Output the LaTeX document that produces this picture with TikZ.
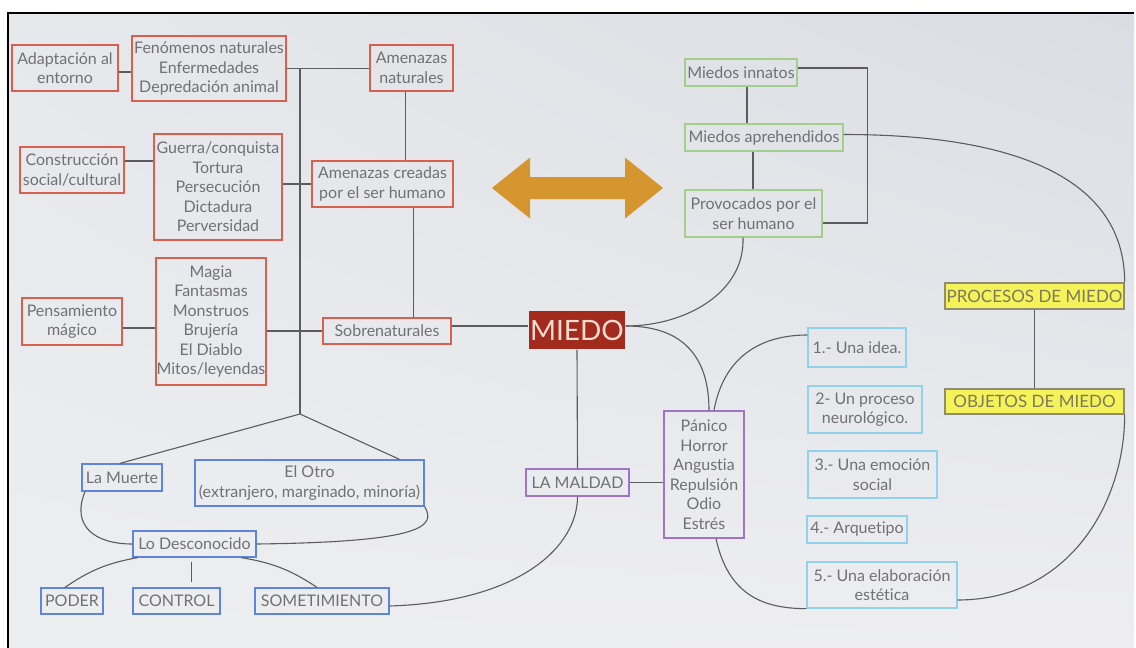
\documentclass[tikz,border=0pt]{standalone}
\usepackage{fontspec}
\usetikzlibrary{shadings}
\setmainfont{Lato}[Ligatures=NoCommon]
\definecolor{txtgray}{HTML}{717175}
\definecolor{linegray}{HTML}{5C5C60}
\definecolor{redline}{HTML}{D9604E}
\definecolor{blueline}{HTML}{5C84E0}
\definecolor{purpleline}{HTML}{A274C8}
\definecolor{greenline}{HTML}{A2D08C}
\definecolor{cyanline}{HTML}{90D2EC}
\definecolor{yellowfill}{HTML}{F6F25A}
\definecolor{yellowline}{HTML}{8E8E72}
\definecolor{yellowtxt}{HTML}{7C7A5E}
\definecolor{miedofill}{HTML}{A22B1D}
\definecolor{miedotxt}{HTML}{F4DCD2}
\definecolor{gold}{HTML}{D5962F}
\definecolor{bgul}{HTML}{E7E8EB}
\definecolor{bgur}{HTML}{DADDE3}
\definecolor{bgll}{HTML}{EDEEF0}
\definecolor{bglr}{HTML}{EEEEF1}
\tikzset{
  box/.style={draw, line width=1.3pt, text=txtgray, inner sep=0pt, align=center,
    font=\fontsize{16}{19.5}\selectfont},
  redbox/.style={box, draw=redline},
  bluebox/.style={box, draw=blueline},
  purplebox/.style={box, draw=purpleline},
  greenbox/.style={box, draw=greenline},
  cyanbox/.style={box, draw=cyanline},
  yellowbox/.style={box, draw=yellowline, fill=yellowfill, text=yellowtxt,
    font=\fontsize{17}{19.5}\selectfont},
  link/.style={draw=linegray, line width=1.1pt},
  sz/.style n args={2}{minimum width=#1, minimum height=#2}
}
\begin{document}
\begin{tikzpicture}[x=1pt, y=-1pt]
\useasboundingbox (0,0) rectangle (1136,648);
% page and slide background
\fill[white] (0,0) rectangle (1136,648);
\shade[upper left=bgul, upper right=bgur, lower left=bgll, lower right=bglr]
  (9,14) rectangle (1134,648);
\draw[line width=2.5pt, black] (8,648) -- (8,13) -- (1134,13);

% threats (red)
\node[redbox, sz={106pt}{46pt}] (ada) at (65,68) {Adaptación al\\entorno};
\node[redbox, sz={154pt}{65pt}] (fen) at (209,68.5) {Fenómenos naturales\\Enfermedades\\Depredación animal};
\node[redbox, sz={83pt}{46pt}] (amn) at (411.5,68) {Amenazas\\naturales};
\node[redbox, sz={104pt}{46pt}] (con) at (72,170) {Construcción\\social/cultural};
\node[redbox, sz={128pt}{106pt}] (gue) at (218,187) {Guerra/conquista\\Tortura\\Persecución\\Dictadura\\Perversidad};
\node[redbox, sz={141pt}{46pt}] (amc) at (382.5,184) {Amenazas creadas\\por el ser humano};
\node[redbox, sz={100pt}{47pt}] (pen) at (72,321.5) {Pensamiento\\mágico};
\node[redbox, sz={110pt}{127pt}] (mag) at (211,321.5) {Magia\\Fantasmas\\Monstruos\\Brujería\\El Diablo\\Mitos/leyendas};
\node[redbox, sz={128pt}{26pt}] (sob) at (387,331) {Sobrenaturales};

% objects (blue)
\node[bluebox, sz={80pt}{27pt}] (muerte) at (122,477.5) {La Muerte};
\node[bluebox, sz={229pt}{46pt}] (otro) at (309.5,483) {El Otro\\(extranjero, marginado, minoría)};
\node[bluebox, sz={123pt}{26pt}] (des) at (194.5,544) {Lo Desconocido};
\node[bluebox, sz={62pt}{26pt}] (poder) at (72,601) {PODER};
\node[bluebox, sz={87pt}{26pt}] (control) at (176.5,601) {CONTROL};
\node[bluebox, sz={134pt}{26pt}] (somet) at (322,601) {SOMETIMIENTO};

% centre
\node[box, draw=none, fill=miedofill, text=miedotxt, sz={96pt}{38pt},
      font=\fontsize{28}{30}\selectfont] (miedo) at (577,330) {MIEDO};
\node[purplebox, sz={103pt}{27pt}] (maldad) at (577.5,482.5) {LA MALDAD};
\node[purplebox, sz={80pt}{127pt}] (panico) at (704,474.5) {Pánico\\Horror\\Angustia\\Repulsión\\Odio\\Estrés};

% kinds of fear (green)
\node[greenbox, sz={112pt}{27pt}] (innatos) at (741,72.5) {Miedos innatos};
\node[greenbox, sz={158pt}{27pt}] (apre) at (764,137.5) {Miedos aprehendidos};
\node[greenbox, sz={137pt}{47pt}] (prov) at (753.5,213.5) {Provocados por el\\ser humano};

% fear as ... (cyan)
\node[cyanbox, sz={98pt}{39pt}] (b1) at (857,347.5) {1.- Una idea.};
\node[cyanbox, sz={114pt}{47pt}] (b2) at (865,409.5) {2- Un proceso\\neurológico.};
\node[cyanbox, sz={129pt}{47pt}] (b3) at (872.5,474.5) {3.- Una emoción\\social};
\node[cyanbox, sz={100pt}{27pt}] (b4) at (857,529.5) {4.- Arquetipo};
\node[cyanbox, sz={150pt}{46pt}] (b5) at (882,585) {5.- Una elaboración\\estética};

% processes / objects (yellow)
\node[yellowbox, sz={179pt}{26pt}] (proc) at (1034.5,296) {PROCESOS DE MIEDO};
\node[yellowbox, sz={179pt}{25pt}] (obj) at (1034.5,401.5) {OBJETOS DE MIEDO};

% two-way arrow
\fill[gold] (492,188) -- (530,157.5) -- (530,177) -- (625,177) -- (625,157.5)
  -- (663,188) -- (625,218.5) -- (625,199) -- (530,199) -- (530,218.5) -- cycle;

% left tree
\coordinate (trunktop) at (300,68.5);
\coordinate (fork) at (300,414);
\draw[link] ([yshift=-4pt]ada.east) -- ([yshift=-4pt]ada.east -| fen.west);
\draw[link] (fen.east) -- (fen.east -| amn.west);
\draw[link] (trunktop) -- (fork);
\draw[link] ([xshift=-6pt]amn.south) -- ([xshift=-6pt]amn.south |- amc.north);
\draw[link] ([yshift=9pt]con.east) -- ([yshift=9pt]con.east -| gue.west);
\draw[link] (amc.west -| gue.east) -- (amc.west);
\draw[link] ([xshift=31pt]amc.south) -- ([xshift=31pt]amc.south |- sob.north);
\draw[link] ([yshift=-6.5pt]pen.east) -- ([yshift=-6.5pt]pen.east -| mag.west);
\draw[link] (sob.west -| mag.east) -- (sob.west);
\draw[link] ([yshift=4pt]miedo.west -| sob.east) -- ([yshift=4pt]miedo.west);
\draw[link] (fork) -- ([xshift=-2pt]muerte.north);
\draw[link] (fork) -- ([xshift=90pt]otro.north);
\draw[link] ([xshift=-37pt]muerte.south) .. controls +(-14,34) and +(-38,0) .. (des.west);
\draw[link] (des.east) .. controls +(165,-2) and +(12,20) .. (otro.south east);
\draw[link] ([xshift=-57pt]des.south) to[bend right=12] ([xshift=-7pt]poder.north);
\draw[link, shorten <=4pt, shorten >=5pt] ([xshift=-3pt]des.south) -- ([xshift=-3pt]des.south |- control.north);
\draw[link] ([xshift=47pt]des.south) to[bend left=12] ([xshift=-5pt]somet.north);
\draw[link] ([yshift=-5pt]somet.east) .. controls +(130,-4) and +(0,50) .. (maldad.south);

% centre links
\draw[link] (miedo.south) -- (maldad.north);
\draw[link] (maldad.east) -- (maldad.east -| panico.west);
\draw[link] ([yshift=4pt]miedo.east) .. controls +(65,0) and +(0,-45) .. ([xshift=5pt]panico.north);
\draw[link] ([yshift=4pt]miedo.east) .. controls +(60,0) and +(2,55) .. ([xshift=-10.5pt]prov.south);
\draw[link] ([xshift=10pt]panico.north) .. controls +(10,-55) and +(-45,0) .. ([yshift=12.5pt]b1.west);
\draw[link] ([xshift=12pt]panico.south) .. controls +(12,55) and +(-45,0) .. (b5.south west);

% right links
\draw[link] ([yshift=-15pt]b5.east) .. controls +(110,0) and +(0,90) .. (obj.south east);
\draw[link] (proc.south) -- (proc.south |- obj.north);
\draw[link] ([yshift=3pt]apre.east) .. controls +(180,0) and +(0,-100) .. (proc.north east);
\draw[link] ([yshift=4.5pt]innatos.east) -- ++(70,0) |- ([yshift=-9.5pt]prov.east);
\draw[link] ([xshift=6pt]innatos.south) -- ([xshift=6pt]innatos.south |- apre.north);
\draw[link] ([xshift=-11pt]apre.south) -- ([xshift=-11pt]apre.south |- prov.north);
\end{tikzpicture}
\end{document}
